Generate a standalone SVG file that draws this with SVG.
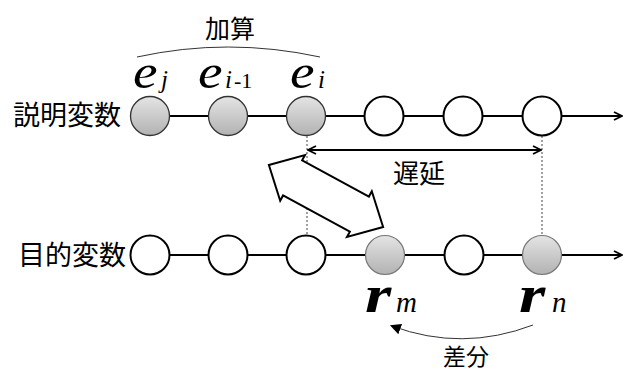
<svg xmlns="http://www.w3.org/2000/svg" width="630" height="372" viewBox="0 0 630 372">
<style>
.ln{stroke:#000;stroke-width:2;fill:none}
.w{fill:#fff;stroke:#000;stroke-width:2}
.g{fill:url(#gr);stroke:#333;stroke-width:1.3}
.g2{fill:url(#gr);stroke:#777;stroke-width:1.2}
.dash{stroke:#444;stroke-width:1;stroke-dasharray:2,2;fill:none}
.jp{font-family:"Noto Sans CJK JP","Noto Sans",sans-serif;fill:#000}
.m{font-family:"Liberation Serif","DejaVu Serif",serif;font-style:italic;fill:#000}
</style>
<defs>
<linearGradient id="gr" x1="0" y1="0" x2="0" y2="1">
<stop offset="0" stop-color="#e4e4e4"/>
<stop offset="1" stop-color="#b2b2b2"/>
</linearGradient>
<marker id="ah" viewBox="0 0 10 10" refX="9" refY="5" markerWidth="10" markerHeight="10" markerUnits="userSpaceOnUse" orient="auto-start-reverse">
<path d="M1,1 L9,5 L1,9" fill="none" stroke="#000" stroke-width="1.8"/>
</marker>
<marker id="tri" viewBox="0 0 10 10" refX="8" refY="5" markerWidth="11" markerHeight="11" markerUnits="userSpaceOnUse" orient="auto">
<path d="M0,0 L10,5 L0,10 Z" fill="#000"/>
</marker>
</defs>

<g id="connectors">
<line class="ln" x1="150" y1="116" x2="622" y2="116" marker-end="url(#ah)"/>
<line class="ln" x1="150" y1="255" x2="622" y2="255" marker-end="url(#ah)"/>
<line class="dash" x1="307" y1="136" x2="307" y2="235"/>
<line class="dash" x1="542" y1="136" x2="542" y2="235"/>
<line class="ln" x1="308" y1="150" x2="541" y2="150" stroke-width="1.8" marker-start="url(#ah)" marker-end="url(#ah)"/>
<path d="M137,57 Q228,37 320,57" fill="none" stroke="#333" stroke-width="1"/>
<path d="M533,325 Q462,352 392,326" fill="none" stroke="#333" stroke-width="1" marker-end="url(#tri)"/>
<g id="double-arrow" transform="translate(326,196) rotate(28.5)">
<path d="M-65,0 L-38,-26 L-38,-20 L38,-20 L38,-26 L65,0 L38,26 L38,20 L-38,20 L-38,26 Z" fill="#fff" stroke="#000" stroke-width="2" stroke-linejoin="miter"/>
</g>
</g>

<g id="top-row">
<circle id="t1" class="g" cx="150" cy="116" r="19.5"/>
<circle id="t2" class="g" cx="228" cy="116" r="19.5"/>
<circle id="t3" class="g" cx="306" cy="116" r="19.5"/>
<circle id="t4" class="w" cx="384" cy="116" r="19.5"/>
<circle id="t5" class="w" cx="463" cy="116" r="19.5"/>
<circle id="t6" class="w" cx="542" cy="116" r="19.5"/>
</g>
<g id="bottom-row">
<circle id="b1" class="w" cx="150" cy="255" r="19.5"/>
<circle id="b2" class="w" cx="228" cy="255" r="19.5"/>
<circle id="b3" class="w" cx="306" cy="255" r="19.5"/>
<circle id="b4" class="g2" cx="385" cy="255" r="19.5"/>
<circle id="b5" class="w" cx="464" cy="255" r="19.5"/>
<circle id="b6" class="g2" cx="542" cy="255" r="19.5"/>
</g>

<g id="labels">
<text class="jp" x="13" y="125" font-size="27">説明変数</text>
<text class="jp" x="18" y="265" font-size="27">目的変数</text>
<text class="jp" x="205" y="38" font-size="25">加算</text>
<text class="jp" x="393" y="183" font-size="26">遅延</text>
<text class="jp" x="443" y="365" font-size="23">差分</text>
</g>

<g id="math">
<text class="m" transform="translate(133,88) scale(1.15,1)" font-size="48">e</text>
<text class="m" x="161" y="88" font-size="25">j</text>
<text class="m" transform="translate(198,88) scale(1.15,1)" font-size="48">e</text>
<text class="m" x="225" y="88" font-size="25">i<tspan font-size="22" font-style="normal" dx="2">-1</tspan></text>
<text class="m" transform="translate(290,88) scale(1.15,1)" font-size="48">e</text>
<text class="m" x="318" y="88" font-size="25">i</text>
<text class="m" transform="translate(365,312) scale(1.3,1)" font-size="52" font-weight="bold">r</text>
<text class="m" x="396" y="312" font-size="29">m</text>
<text class="m" transform="translate(519,312) scale(1.3,1)" font-size="52" font-weight="bold">r</text>
<text class="m" x="552" y="312" font-size="29">n</text>
</g>
</svg>
